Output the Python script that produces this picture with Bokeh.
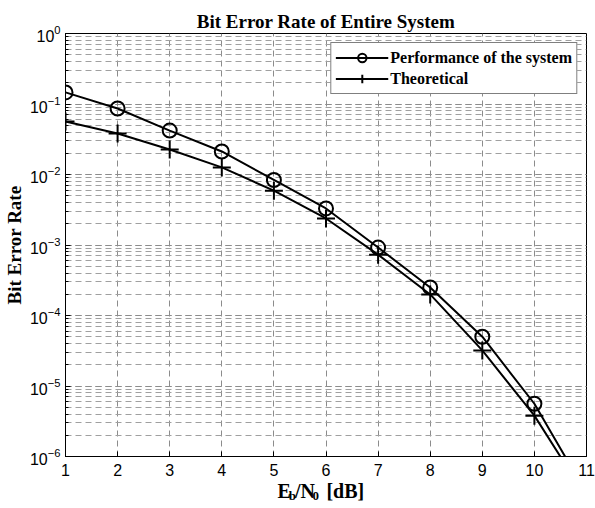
from bokeh.plotting import figure
from bokeh.models import Legend, LegendItem, Range1d, ColumnDataSource
from bokeh.layouts import column
from bokeh.embed import file_html
from bokeh.resources import INLINE

# ---- data ----
ebno_db = [1, 2, 3, 4, 5, 6, 7, 8, 9, 10, 11]
ber_system = [0.146, 0.0863, 0.042, 0.0212, 0.00836, 0.0033, 9.2e-4, 2.5e-4, 5.0e-5, 5.6e-6, 3.0e-7]
ber_theory = [0.0565, 0.0382, 0.0226, 0.0126, 0.0059, 0.00238, 7.3e-4, 1.99e-4, 3.2e-5, 3.8e-6, 2.6e-7]
x_ticks = [1, 2, 3, 4, 5, 6, 7, 8, 9, 10, 11]
series_names = ["Performance of the system", "Theoretical"]
title_text = "Bit Error Rate of Entire System"
y_label = "Bit Error Rate"
x_label_parts = ["E", "b", "/N", "0", "[dB]"]

SERIF = "Liberation Serif"
SANS = "Liberation Sans"

p = figure(width=595, height=480, y_axis_type="log",
           x_range=Range1d(1, 11), y_range=Range1d(1e-6, 1),
           output_backend="svg", toolbar_location=None,
           min_border_left=64, min_border_right=9,
           min_border_top=33, min_border_bottom=24)

p.title.text = title_text
p.title.text_font = SERIF
p.title.text_font_size = "19px"
p.title.text_font_style = "bold"
p.title.text_color = "black"
p.title.align = "center"
p.title.standoff = 4

p.outline_line_color = "black"
p.outline_line_width = 1
p.background_fill_color = "white"
p.border_fill_color = "white"

# grids
p.xgrid.grid_line_color = "#8c8c8c"
p.xgrid.grid_line_dash = "6 4"
p.xgrid.grid_line_width = 1
p.ygrid.grid_line_color = "#8c8c8c"
p.ygrid.grid_line_dash = "6 4"
p.ygrid.minor_grid_line_color = "#a0a0a0"
p.ygrid.minor_grid_line_dash = "6 4"
p.xgrid.ticker = x_ticks

# axes
p.xaxis.ticker = x_ticks
for ax in (p.xaxis[0], p.yaxis[0]):
    ax.axis_line_color = "black"
    ax.major_tick_out = 0
    ax.major_tick_in = 5
    ax.minor_tick_out = 0
    ax.minor_tick_in = 3
    ax.major_label_text_font = SANS
    ax.major_label_text_font_size = "16px"
    ax.major_label_text_color = "black"
p.xaxis.minor_tick_line_color = None
p.xaxis.major_label_standoff = 7
p.yaxis.major_label_standoff = 5

p.yaxis.axis_label = y_label
p.yaxis.axis_label_text_font = SERIF
p.yaxis.axis_label_text_font_size = "19px"
p.yaxis.axis_label_text_font_style = "bold"
p.yaxis.axis_label_text_color = "black"
p.yaxis.axis_label_standoff = 2

# series
l1 = p.line(ebno_db, ber_system, line_color="black", line_width=2)
m1 = p.scatter(ebno_db, ber_system, marker="circle", size=14, fill_color="white",
               fill_alpha=0, line_color="black", line_width=2)
l2 = p.line(ebno_db, ber_theory, line_color="black", line_width=2)
m2 = p.scatter(ebno_db, ber_theory, marker="cross", size=18, line_color="black", line_width=2)

legend = Legend(items=[LegendItem(label=series_names[0], renderers=[l1, m1]),
                       LegendItem(label=series_names[1], renderers=[l2, m2])],
                location="top_right")
legend.label_text_font = SERIF
legend.label_text_font_size = "16px"
legend.label_text_font_style = "bold"
legend.label_text_color = "black"
legend.glyph_width = 53
legend.glyph_height = 21
legend.label_height = 21
legend.label_standoff = 2
legend.spacing = 0
legend.padding = 4
legend.margin = 9
legend.border_line_color = "black"
legend.border_line_width = 1
legend.background_fill_alpha = 1
p.add_layout(legend)

# x-axis label strip (E_b/N_0 [dB]) drawn as real text with subscripts
p2 = figure(width=595, height=28, x_range=Range1d(0, 595), y_range=Range1d(0, 28),
            output_backend="svg", toolbar_location=None,
            x_axis_location=None, y_axis_location=None,
            min_border_left=0, min_border_right=0, min_border_top=0, min_border_bottom=0)
p2.outline_line_color = None
p2.xgrid.visible = False
p2.ygrid.visible = False
p2.border_fill_color = "white"
src = ColumnDataSource(dict(
    x=[242, 255, 262, 282, 298],
    y=[18, 13, 18, 13, 18],
    text=x_label_parts,
    size=["20px", "13px", "20px", "13px", "20px"],
))
p2.text(x="x", y="y", text="text", source=src, text_font=SERIF, text_font_size="size",
        text_font_style="bold", text_baseline="alphabetic", text_align="left",
        text_color="black")

layout = column(p, p2, spacing=0)
open("out.html", "w").write(file_html(layout, INLINE))
